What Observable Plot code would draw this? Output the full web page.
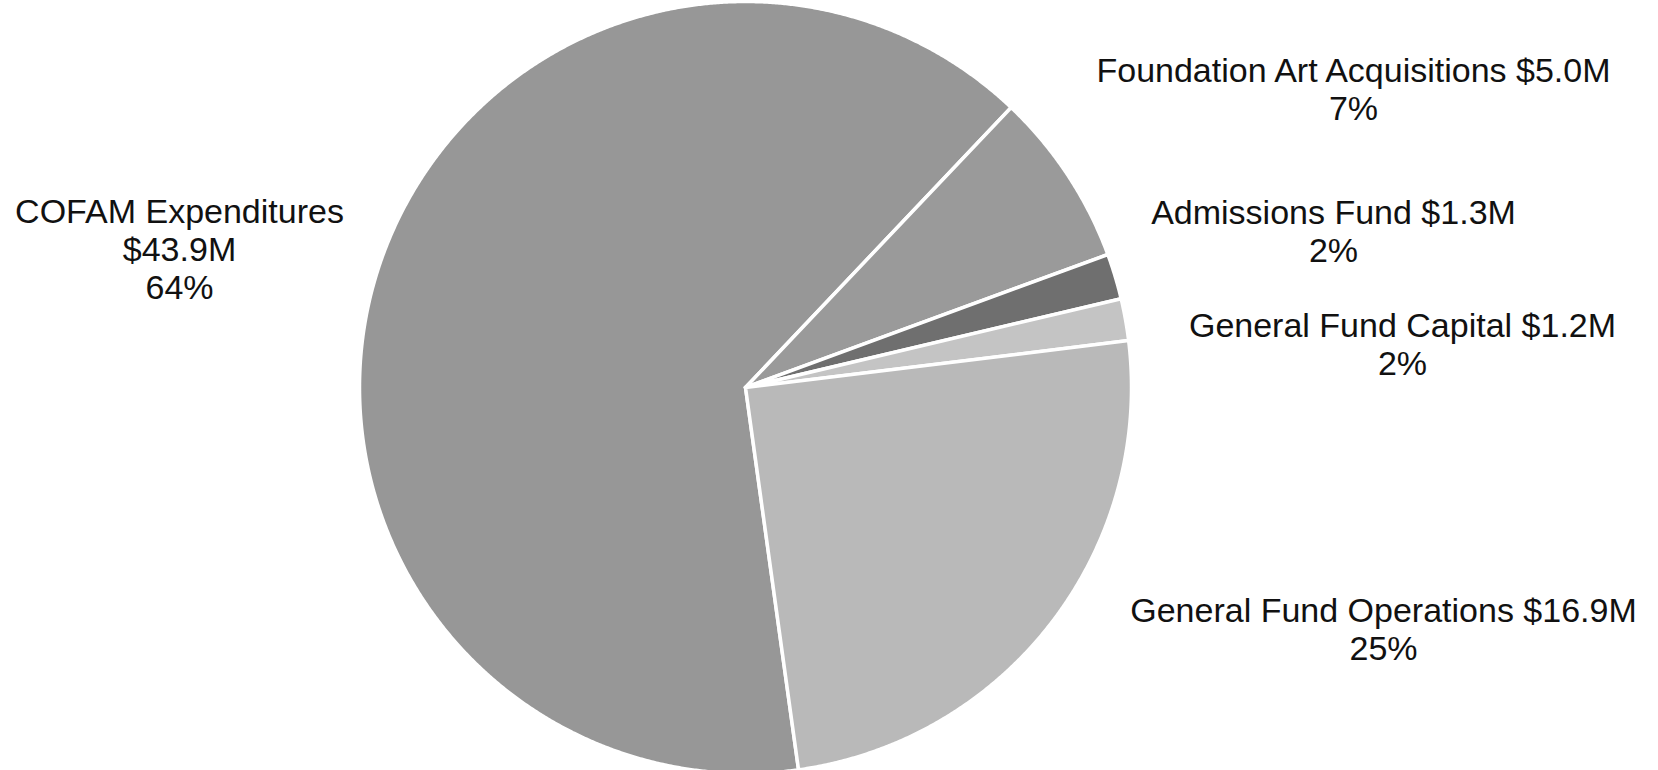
<!DOCTYPE html>
<html>
<head>
<meta charset="utf-8">
<script src="https://cdn.jsdelivr.net/npm/d3@7"></script>
<script src="https://cdn.jsdelivr.net/npm/@observablehq/plot@0.6"></script>
<style>
  html, body { margin: 0; padding: 0; background: #ffffff; }
  #chart svg { display: block; }
</style>
</head>
<body>
<div id="chart"></div>
<script>
// ---- data ----
const categories = ["COFAM Expenditures", "Foundation Art Acquisitions", "Admissions Fund", "General Fund Capital", "General Fund Operations"];
const amounts = [43.9, 5.0, 1.3, 1.2, 16.9]; // $ millions
const sliceColors = ["#979797", "#9a9a9a", "#6f6f6f", "#c4c4c4", "#b9b9b9"];
const labelBreak = [true, false, false, false, false]; // COFAM label splits name and amount

// ---- layout ----
const W = 1658, H = 770;
const cx = 745, cy = 387, R = 386;
const startDeg = 172.1;
// label block centres (pixels)
const labelX = [179, 1353, 1333, 1402, 1383];
const labelY = [248, 88, 230, 343, 628];

const total = d3.sum(amounts);
const pie = d3.pie().sort(null)
  .startAngle(startDeg * Math.PI / 180)
  .endAngle((startDeg + 360) * Math.PI / 180);
const arcs = pie(amounts);

const polys = [];
arcs.forEach((a, i) => {
  const name = categories[i];
  polys.push({name, x: cx, y: cy});
  const n = Math.max(2, Math.ceil((a.endAngle - a.startAngle) / (Math.PI / 720)));
  for (let k = 0; k <= n; k++) {
    const t = a.startAngle + (a.endAngle - a.startAngle) * k / n;
    polys.push({name, x: cx + R * Math.sin(t), y: cy - R * Math.cos(t)});
  }
  polys.push({name, x: cx, y: cy});
});

const labels = categories.map((c, i) => {
  const pct = Math.round(amounts[i] / total * 100) + "%";
  const amt = "$" + amounts[i].toFixed(1) + "M";
  const text = labelBreak[i] ? `${c}\n${amt}\n${pct}` : `${c} ${amt}\n${pct}`;
  return {text, x: labelX[i], y: labelY[i]};
});

const chart = Plot.plot({
  width: W, height: H,
  margin: 0,
  x: {domain: [0, W], range: [0, W], axis: null},
  y: {domain: [0, H], range: [0, H], axis: null},
  color: {domain: categories, range: sliceColors},
  style: {background: "#ffffff"},
  marks: [
    Plot.line(polys, {x: "x", y: "y", z: "name", fill: "name", stroke: "#ffffff", strokeWidth: 3.5, strokeLinejoin: "round", curve: "linear"}),
    Plot.text(labels, {x: "x", y: "y", text: "text", fontSize: 34, lineHeight: 1.12, fill: "#111111", fontFamily: "Liberation Sans, Arial, sans-serif", textAnchor: "middle", lineAnchor: "middle"})
  ]
});
document.getElementById("chart").appendChild(chart);
</script>
</body>
</html>
